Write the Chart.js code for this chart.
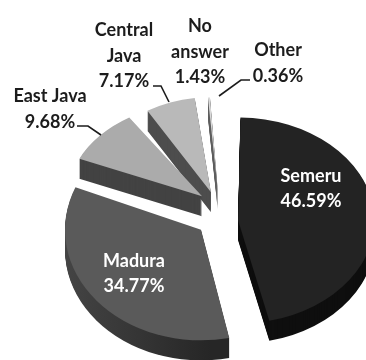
<!DOCTYPE html>
<html>
<head>
<meta charset="utf-8">
<style>
  html, body { margin: 0; padding: 0; background: #fff; }
  canvas { display: block; }
</style>
<script src="https://cdn.jsdelivr.net/npm/chart.js@4/dist/chart.umd.min.js"></script>
</head>
<body>
<canvas id="chart" width="366" height="360"></canvas>
<script>
"use strict"

const categories = ["Semeru", "Madura", "East Java", "Central Java", "No answer", "Other"];
const shares = [46.59, 34.77, 9.68, 7.17, 1.43, 0.36];
const percentLabels = ["46.59%", "34.77%", "9.68%", "7.17%", "1.43%", "0.36%"];

//////////    Look of the slices    ///////////////

const topColors = ["#232323", "#5a5a5a", "#ababab", "#b9b9b9", "#d9d9d9", "#efefef"];
const sideColors = ["#0f0f0f", "#343434", "#434343", "#4d4d4d", "#5f5f5f", "#9a9a9a"];
const explode = [60, 75, 76, 101, 133, 133];

// the picture has perspective, so every slice gets its own squash
const scaleX = [1.2175, 1.315, 1.238, 1.077, 1.0, 1.0];
const scaleY = [0.922, 1.069, 0.869, 0.832, 0.708, 0.708];
const centerY = [222, 217, 207, 212, 213, 213];
const centerX = 220;
const depth = 20;

//////////    Text around the pie    ///////////////

const labelFont = "bold 18px Lato";
const labelBoxes = [
  { lines: ["Semeru", percentLabels[0]], x: 311, y: [176, 201], color: "#ffffff" },
  { lines: ["Madura", percentLabels[1]], x: 134, y: [261, 286], color: "#ffffff" },
  { lines: ["East Java", percentLabels[2]], x: 50, y: [96, 122], color: "#1c1c1c" },
  { lines: ["Central", "Java", percentLabels[3]], x: 124, y: [30, 56, 81], color: "#1c1c1c" },
  { lines: ["No", "answer", percentLabels[4]], x: 200, y: [26, 52, 77], color: "#1c1c1c" },
  { lines: ["Other", percentLabels[5]], x: 278, y: [50, 76], color: "#1c1c1c" }
];
const leaders = [
  [[77, 126], [88, 126], [101, 135]],
  [[153, 86], [161, 86], [169, 102]],
  [[250, 80], [241, 80], [219, 96]]
];

///////////   Plugin that fakes the 3D look    //////////////////////

function drawSlice(ctx, arc, i, color, shift) {
  const saved = arc.options;
  ctx.save();
  ctx.translate(centerX, centerY[i] + shift);
  ctx.scale(scaleX[i], scaleY[i]);
  ctx.translate(-arc.x, -arc.y);
  arc.options = Object.assign({}, saved, { backgroundColor: color, borderWidth: 0 });
  arc.draw(ctx);
  arc.options = saved;
  ctx.restore();
}

// Madura's wall goes darker towards the right
function maduraWall(ctx, arc) {
  const left = arc.x + (65 - centerX) / scaleX[1];
  const right = arc.x + (230 - centerX) / scaleX[1];
  const gradient = ctx.createLinearGradient(left, 0, right, 0);
  gradient.addColorStop(0, "#484848");
  gradient.addColorStop(1, "#262626");
  return gradient;
}

const pie3d = {
  id: "pie3d",
  beforeDatasetsDraw(chart) {
    const ctx = chart.ctx;
    const arcs = chart.getDatasetMeta(0).data;
    for (let i = arcs.length - 1; i >= 0; i--) {
      const wall = i === 1 ? maduraWall(ctx, arcs[i]) : sideColors[i];
      for (let d = depth; d > 0; d--) {
        drawSlice(ctx, arcs[i], i, wall, d);
      }
      drawSlice(ctx, arcs[i], i, topColors[i], 0);
    }

    ctx.strokeStyle = "#1c1c1c";
    ctx.lineWidth = 1.6;
    leaders.forEach(points => {
      ctx.beginPath();
      points.forEach((p, n) => n ? ctx.lineTo(p[0], p[1]) : ctx.moveTo(p[0], p[1]));
      ctx.stroke();
    });

    ctx.font = labelFont;
    ctx.textAlign = "center";
    ctx.textBaseline = "middle";
    labelBoxes.forEach(box => {
      ctx.fillStyle = box.color;
      box.lines.forEach((line, n) => ctx.fillText(line, box.x, box.y[n]));
    });
    return false;
  }
};

new Chart(document.getElementById("chart"), {
  type: "pie",
  data: {
    labels: categories,
    datasets: [{
      data: shares,
      backgroundColor: topColors,
      borderWidth: 0,
      offset: explode
    }]
  },
  options: {
    responsive: false,
    animation: false,
    radius: 100,
    plugins: {
      legend: { display: false },
      tooltip: { enabled: false }
    }
  },
  plugins: [pie3d]
});
</script>
</body>
</html>
